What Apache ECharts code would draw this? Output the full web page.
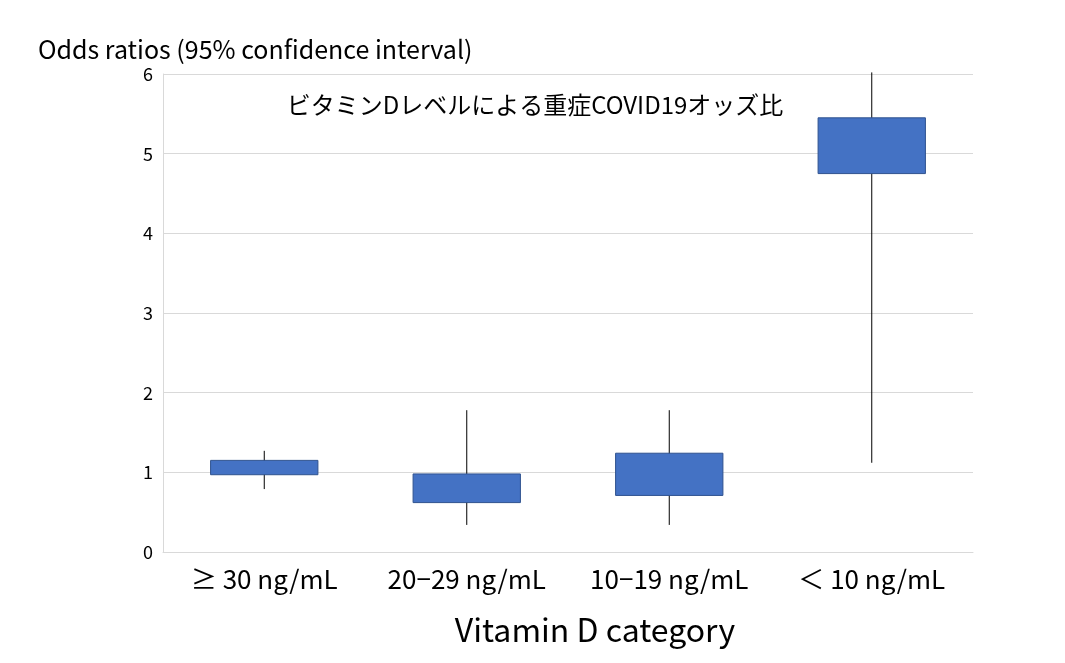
<!DOCTYPE html>
<html>
<head>
    <meta charset="utf-8">
    <title>ECharts</title>
    <script src="https://cdn.jsdelivr.net/npm/echarts@6/dist/echarts.min.js"></script>
</head>
<body style="margin:0">
    <div id="main" style="width:1065px;height:663px;"></div>
    <script type="text/javascript">
        // カテゴリ
        var categories = ['≥ 30 ng/mL', '20−29 ng/mL', '10−19 ng/mL', '＜ 10 ng/mL'];
        // 箱（下端・上端）
        var boxLow  = [0.97, 0.62, 0.71, 4.75];
        var boxHigh = [1.15, 0.98, 1.24, 5.45];
        // 95%信頼区間
        var ciLow  = [0.79, 0.34, 0.34, 1.12];
        var ciHigh = [1.27, 1.78, 1.78, 6.02];

        var seriesData = [];
        for (var i = 0; i < categories.length; ++i) {
            seriesData.push([i, boxLow[i], boxHigh[i], ciLow[i], ciHigh[i]]);
        }

        function renderItem(params, api) {
            var x = api.value(0);
            var lo = api.coord([x, api.value(3)]);
            var hi = api.coord([x, api.value(4)]);
            var top = api.coord([x, api.value(2)]);
            var bot = api.coord([x, api.value(1)]);
            var w = api.size([1, 0])[0] * 0.53;
            return {
                type: 'group',
                children: [
                    {
                        type: 'line',
                        shape: {x1: lo[0], y1: lo[1], x2: hi[0], y2: hi[1]},
                        style: {stroke: '#000', lineWidth: 1}
                    },
                    {
                        type: 'rect',
                        shape: {x: top[0] - w / 2, y: top[1], width: w, height: bot[1] - top[1]},
                        style: {fill: '#4472C4', stroke: '#2F528F', lineWidth: 1}
                    }
                ]
            };
        }

        var chart = echarts.init(document.getElementById('main'));
        var option = {
            backgroundColor: '#fff',
            textStyle: {fontFamily: 'Noto Sans CJK JP'},
            title: [
                {
                    text: 'Odds ratios (95% confidence interval)',
                    left: 33,
                    top: 32,
                    textStyle: {fontSize: 25, fontWeight: 'normal', color: '#000', fontFamily: 'Noto Sans CJK JP'}
                },
                {
                    text: 'ビタミンDレベルによる重症COVID19オッズ比',
                    left: 530,
                    textAlign: 'center',
                    top: 88,
                    textStyle: {fontSize: 24, fontWeight: 'normal', color: '#000', fontFamily: 'Noto Sans CJK JP'}
                }
            ],
            grid: {left: 163, right: 92, top: 74, bottom: 111},
            xAxis: {
                type: 'category',
                data: categories,
                name: 'Vitamin D category',
                nameLocation: 'middle',
                nameGap: 62,
                nameTextStyle: {fontSize: 32, color: '#000', padding: [0, 0, 0, 54]},
                axisLine: {lineStyle: {color: '#d9d9d9'}},
                axisTick: {show: false},
                axisLabel: {fontSize: 26, color: '#000', margin: 14, interval: 0}
            },
            yAxis: {
                type: 'value',
                min: 0,
                max: 6,
                interval: 1,
                axisLine: {show: true, lineStyle: {color: '#d9d9d9'}},
                axisTick: {show: false},
                axisLabel: {fontSize: 18, color: '#000', margin: 10},
                splitLine: {lineStyle: {color: '#d9d9d9'}}
            },
            series: [{
                type: 'custom',
                renderItem: renderItem,
                encode: {x: 0, y: [1, 2, 3, 4]},
                data: seriesData
            }]
        };
        chart.setOption(option);
    </script>
</body>
</html>
